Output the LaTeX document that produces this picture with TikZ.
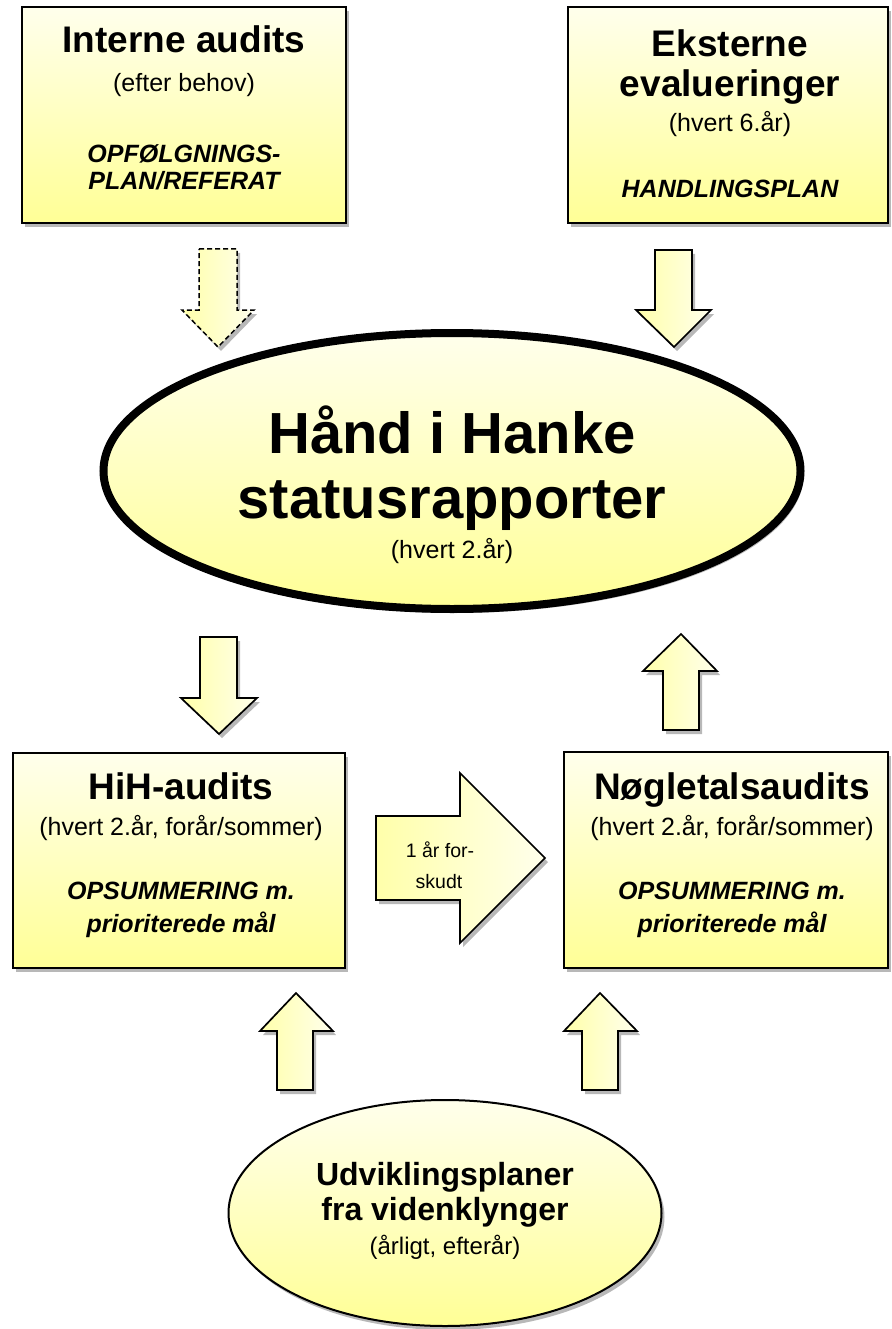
\documentclass[tikz,border=0pt]{standalone}
\usepackage{fontspec}
\setmainfont{Liberation Sans}
\usetikzlibrary{shadows,shapes.geometric}
\definecolor{ylight}{RGB}{255,255,236}
\definecolor{ydark}{RGB}{255,255,150}
\definecolor{yarrow}{RGB}{255,255,170}
\tikzset{
  shade/.style={drop shadow={shadow xshift=3pt, shadow yshift=-4pt, fill=black, opacity=0.28}},
  boxfill/.style={top color=ylight, bottom color=ydark, draw=black, line width=2pt, shade},
  blockarrow/.style={left color=yarrow, right color=ylight, draw=black, line width=1.7pt, line join=miter, shade},
  ttl/.style={font=\fontsize{37}{40}\selectfont\bfseries, anchor=base, inner sep=0pt},
  bigttl/.style={font=\fontsize{58}{62}\selectfont\bfseries, anchor=base, inner sep=0pt},
  subt/.style={font=\fontsize{25}{28}\selectfont, anchor=base, inner sep=0pt},
  emtxt/.style={font=\fontsize{25}{28}\selectfont\bfseries\itshape, anchor=base, inner sep=0pt},
}
\begin{document}
\begin{tikzpicture}[x=1pt,y=-1pt]
\useasboundingbox (0,0) rectangle (891,1329);

% top-left box
\path[boxfill] (22,7) rectangle (346,223);
\node[ttl] (ia) at (184,53) {Interne audits};
\node[subt] (iab) at (184,92) {(efter behov)};
\node[emtxt] (iac) at (184,163) {OPFØLGNINGS-};
\node[emtxt] (iad) at (184,190) {PLAN/REFERAT};

% top-right box
\path[boxfill] (568,7) rectangle (888,223);
\node[ttl] (ee) at (730,57) {Eksterne};
\node[ttl] (eeb) at (730,97) {evalueringer};
\node[subt] (eec) at (730,132) {(hvert 6.år)};
\node[emtxt] (eed) at (730,198) {HANDLINGSPLAN};

% arrows into big ellipse
\draw[blockarrow, dashed, dash pattern=on 5pt off 3pt, line width=1.5pt]
  (199,249) -- (237,249) -- (237,310) -- (254,310) -- (218,347) -- (182,310) -- (199,310) -- cycle;
\draw[blockarrow]
  (655,250) -- (692,250) -- (692,310) -- (711,310) -- (674,347) -- (636,310) -- (655,310) -- cycle;

% big ellipse
\node[ellipse, draw=black, line width=8pt, top color=ylight, bottom color=ydark,
      minimum width=697pt, minimum height=276pt, inner sep=0pt, shade] (hih) at (452,471) {};
\node[bigttl] (hiha) at (452,453) {Hånd i Hanke};
\node[bigttl] (hihb) at (452,518) {statusrapporter};
\node[subt] (hihc) at (452,558) {(hvert 2.år)};

% arrows below big ellipse
\draw[blockarrow]
  (200,637) -- (237,637) -- (237,698) -- (257,698) -- (219,734) -- (181,698) -- (200,698) -- cycle;
\draw[blockarrow]
  (681,634) -- (717,671) -- (699,671) -- (699,730) -- (663,730) -- (663,671) -- (643,671) -- cycle;

% HiH box
\path[boxfill] (13,753) rectangle (345,968);
\node[ttl] (ha) at (181,799) {HiH-audits};
\node[subt] (hb) at (181,835) {(hvert 2.år, forår/sommer)};
\node[emtxt] (hc) at (181,899) {OPSUMMERING m.};
\node[emtxt] (hd) at (181,932) {prioriterede mål};

% Noegletals box
\path[boxfill] (564,752) rectangle (888,968);
\node[ttl] (na) at (732,799) {Nøgletalsaudits};
\node[subt] (nb) at (732,835) {(hvert 2.år, forår/sommer)};
\node[emtxt] (nc) at (732,899) {OPSUMMERING m.};
\node[emtxt] (nd) at (732,932) {prioriterede mål};

% middle right arrow
\draw[blockarrow]
  (376,816) -- (460,816) -- (460,773) -- (545,858) -- (460,943) -- (460,900) -- (376,900) -- cycle;
\node[font=\fontsize{19.5}{22}\selectfont, anchor=base, inner sep=0pt] (fa) at (440,857) {1 år for-};
\node[font=\fontsize{19.5}{22}\selectfont, anchor=base, inner sep=0pt] (fb) at (439,888) {skudt};

% bottom up arrows
\draw[blockarrow]
  (296,993) -- (333,1031) -- (313,1031) -- (313,1090) -- (277,1090) -- (277,1031) -- (260,1031) -- cycle;
\draw[blockarrow]
  (600,993) -- (637,1031) -- (618,1031) -- (618,1090) -- (582,1090) -- (582,1031) -- (564,1031) -- cycle;

% bottom ellipse
\node[ellipse, draw=black, line width=2pt, top color=ylight, bottom color=ydark,
      minimum width=433pt, minimum height=226pt, inner sep=0pt, shade] (ud) at (445,1213) {};
\node[font=\fontsize{32}{36}\selectfont\bfseries, anchor=base, inner sep=0pt] (uda) at (445,1185) {Udviklingsplaner};
\node[font=\fontsize{32}{36}\selectfont\bfseries, anchor=base, inner sep=0pt] (udb) at (445,1220) {fra videnklynger};
\node[font=\fontsize{24}{27}\selectfont, anchor=base, inner sep=0pt] (udc) at (445,1254) {(årligt, efterår)};
\end{tikzpicture}
\end{document}
